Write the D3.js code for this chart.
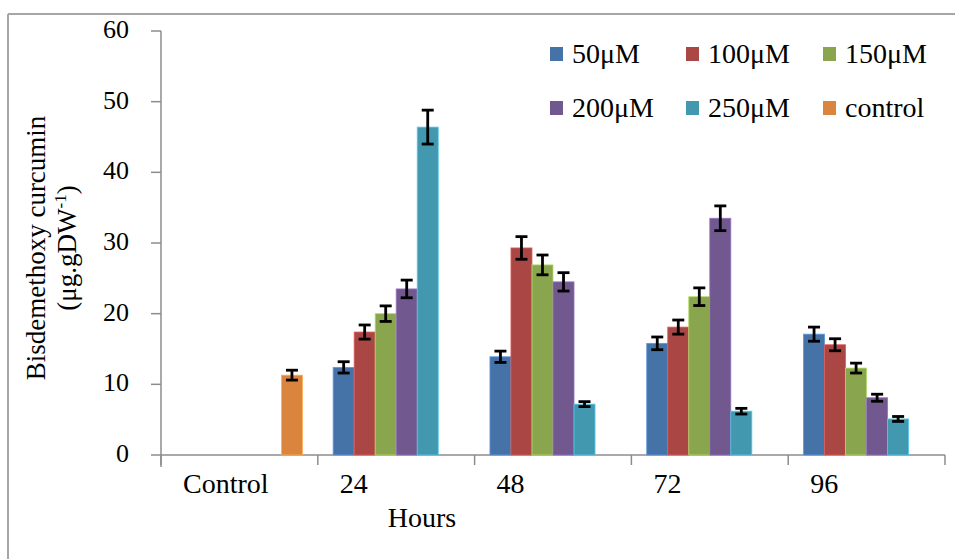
<!DOCTYPE html>
<html>
<head>
<meta charset="utf-8">
<script src="https://cdn.jsdelivr.net/npm/d3@7"></script>
<style>
  body { margin: 0; background: #fff; }
  text { font-family: "Liberation Serif", "Times New Roman", serif; fill: #000; }
</style>
</head>
<body>
<div id="chart"></div>
<script>
// categories and series
const categories = ["Control", "24", "48", "72", "96"];
const seriesNames = ["50μM", "100μM", "150μM", "200μM", "250μM", "control"];
const colors = ["#4572A7", "#AA4643", "#89A54E", "#71588F", "#4198AF", "#DB843D"];

// values (null = no bar)
const v50 = [null, 12.4, 13.9, 15.8, 17.1];
const v100 = [null, 17.4, 29.3, 18.1, 15.6];
const v150 = [null, 20.0, 26.9, 22.4, 12.3];
const v200 = [null, 23.5, 24.5, 33.5, 8.1];
const v250 = [null, 46.4, 7.2, 6.2, 5.1];
const vControl = [11.3, null, null, null, null];

// error bar half-widths
const e50 = [null, 0.8, 0.8, 0.9, 1.0];
const e100 = [null, 1.0, 1.6, 1.0, 0.85];
const e150 = [null, 1.1, 1.4, 1.25, 0.7];
const e200 = [null, 1.25, 1.3, 1.75, 0.5];
const e250 = [null, 2.4, 0.35, 0.4, 0.35];
const eControl = [0.7, null, null, null, null];

const yTicks = [0, 10, 20, 30, 40, 50, 60];

const values = [v50, v100, v150, v200, v250, vControl];
const errors = [e50, e100, e150, e200, e250, eControl];

const width = 955, height = 559;

const svg = d3.select("#chart").append("svg")
    .attr("width", width)
    .attr("height", height);

// outer frame (top and left only visible)
svg.append("line").attr("x1", 8).attr("x2", width).attr("y1", 14).attr("y2", 14)
    .attr("stroke", "#a6a6a6").attr("stroke-width", 2);
svg.append("line").attr("x1", 8).attr("x2", 8).attr("y1", 14).attr("y2", height)
    .attr("stroke", "#a6a6a6").attr("stroke-width", 2);

const x = d3.scaleBand().domain(categories).range([161, 945]).padding(0);
const xs = d3.scaleBand().domain(seriesNames).range([0, x.bandwidth()])
    .paddingInner(0).paddingOuter(0.73);
const y = d3.scaleLinear().domain([0, 60]).range([455, 31]);

const axisColor = "#8c8c8c";

// y axis
const yAxis = svg.append("g");
yAxis.append("line").attr("x1", 161).attr("x2", 161)
    .attr("y1", y(60)).attr("y2", y(0) + 12)
    .attr("stroke", axisColor).attr("stroke-width", 1.5);
yAxis.selectAll("line.tick").data(yTicks).enter().append("line")
    .attr("class", "tick")
    .attr("x1", 151).attr("x2", 161)
    .attr("y1", d => y(d)).attr("y2", d => y(d))
    .attr("stroke", axisColor).attr("stroke-width", 1.5);
yAxis.selectAll("text").data(yTicks).enter().append("text")
    .attr("x", 129)
    .attr("y", d => y(d) - 2)
    .attr("dy", "0.35em")
    .attr("text-anchor", "end")
    .style("font-size", "26px")
    .text(d => d);

// x axis
const xAxis = svg.append("g");
xAxis.append("line").attr("x1", 161).attr("x2", 945)
    .attr("y1", y(0)).attr("y2", y(0))
    .attr("stroke", axisColor).attr("stroke-width", 1.5);
const bounds = categories.map(c => x(c)).concat([x.range()[1]]);
xAxis.selectAll("line.tick").data(bounds).enter().append("line")
    .attr("class", "tick")
    .attr("x1", d => d).attr("x2", d => d)
    .attr("y1", y(0)).attr("y2", y(0) + 10)
    .attr("stroke", axisColor).attr("stroke-width", 1.5);
xAxis.selectAll("text").data(categories).enter().append("text")
    .attr("x", d => x(d) + 22)
    .attr("y", 493)
    .style("font-size", "28px")
    .text(d => d);

// bars
const barData = [];
seriesNames.forEach((s, i) => {
  categories.forEach((c, j) => {
    if (values[i][j] != null) {
      barData.push({ series: s, cat: c, value: values[i][j], err: errors[i][j], color: colors[i] });
    }
  });
});

svg.append("g").selectAll("rect").data(barData).enter().append("rect")
    .attr("x", d => x(d.cat) + xs(d.series))
    .attr("y", d => y(d.value))
    .attr("width", xs.bandwidth())
    .attr("height", d => y(0) - y(d.value))
    .attr("fill", d => d.color)
    .attr("stroke", d => d3.color(d.color).brighter(0.8))
    .attr("stroke-width", 0.8);

// error bars
const eb = svg.append("g").attr("stroke", "#000").attr("stroke-width", 2.8);
barData.filter(d => d.err != null).forEach(d => {
  const cx = x(d.cat) + xs(d.series) + xs.bandwidth() / 2;
  const y1 = y(d.value + d.err), y2 = y(d.value - d.err);
  eb.append("line").attr("x1", cx).attr("x2", cx).attr("y1", y1).attr("y2", y2);
  eb.append("line").attr("x1", cx - 6).attr("x2", cx + 6).attr("y1", y1).attr("y2", y1);
  eb.append("line").attr("x1", cx - 6).attr("x2", cx + 6).attr("y1", y2).attr("y2", y2);
});

// axis titles
svg.append("text")
    .attr("x", 422).attr("y", 527)
    .attr("text-anchor", "middle")
    .style("font-size", "28px")
    .text("Hours");

const yt = svg.append("g").attr("transform", "translate(0,248) rotate(-90)");
yt.append("text")
    .attr("x", 0).attr("y", 45)
    .attr("text-anchor", "middle")
    .style("font-size", "27px")
    .text("Bisdemethoxy curcumin");
const yt2 = yt.append("text")
    .attr("x", 0).attr("y", 76)
    .attr("text-anchor", "middle")
    .style("font-size", "27px");
yt2.append("tspan").text("(μg.gDW");
yt2.append("tspan").attr("dy", -10).style("font-size", "17px").text("-1");
yt2.append("tspan").attr("dy", 10).text(")");

// legend
const legendPos = [
  [550, 47], [686, 47], [823, 47],
  [550, 101], [686, 101], [823, 101]
];
const legend = svg.append("g");
seriesNames.forEach((s, i) => {
  const [lx, ly] = legendPos[i];
  legend.append("rect").attr("x", lx).attr("y", ly).attr("width", 13).attr("height", 14)
      .attr("fill", colors[i]);
  legend.append("text").attr("x", lx + 22).attr("y", ly + 16)
      .style("font-size", "28px")
      .text(s);
});
</script>
</body>
</html>
